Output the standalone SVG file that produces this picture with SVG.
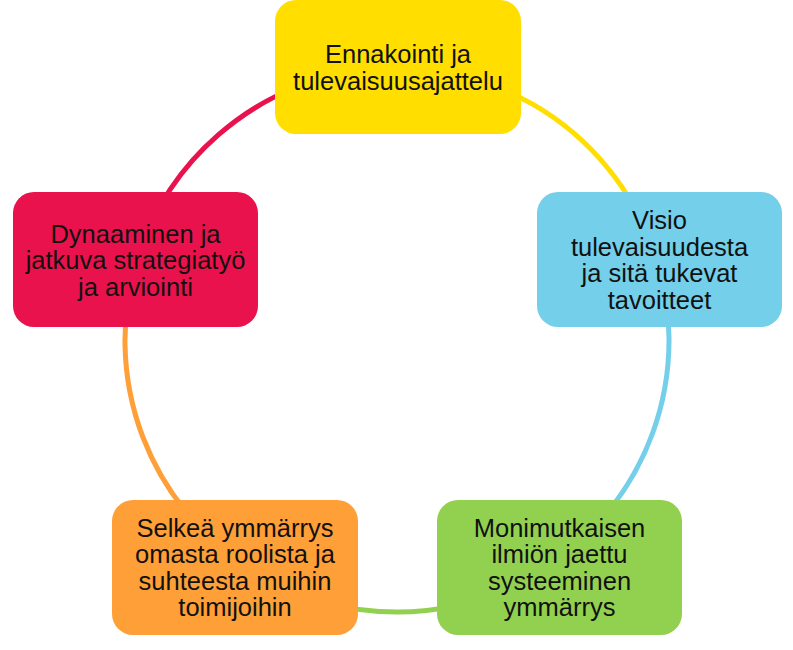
<svg xmlns="http://www.w3.org/2000/svg" width="793" height="650" viewBox="0 0 793 650">
  <style>
    .arc { fill: none; stroke-width: 5; }
    .box { stroke: none; }
    .lbl { font-family: "Liberation Sans", Arial, sans-serif; font-size: 25.5px; fill: #111111; text-anchor: middle; }
  </style>
  <rect x="0" y="0" width="793" height="650" fill="#ffffff"/>
  <g id="connectors">
    <path class="arc" stroke="#FFDE00" d="M349.8,72.1 A272,272 0 0 1 652.6,247.0"/>
    <path class="arc" stroke="#73CFEA" d="M652.6,247.0 A272,272 0 0 1 533,575.6"/>
    <path class="arc" stroke="#92D14F" d="M533,575.6 A272,272 0 0 1 261,575.6"/>
    <path class="arc" stroke="#FF9F37" d="M261,575.6 A272,272 0 0 1 138.3,255.9"/>
    <path class="arc" stroke="#E9124C" d="M138.3,255.9 A272,272 0 0 1 349.8,72.1"/>
  </g>
  <g id="node-ennakointi">
    <rect class="box" x="275" y="0" width="246" height="134" rx="21" fill="#FFDE00"/>
    <text class="lbl"><tspan x="398" y="63">Ennakointi ja</tspan><tspan x="398" y="89.5">tulevaisuusajattelu</tspan></text>
  </g>
  <g id="node-visio">
    <rect class="box" x="537" y="192" width="245" height="135" rx="21" fill="#73CFEA"/>
    <text class="lbl"><tspan x="659.5" y="229">Visio</tspan><tspan x="659.5" y="255.5">tulevaisuudesta</tspan><tspan x="659.5" y="282">ja sitä tukevat</tspan><tspan x="659.5" y="308.5">tavoitteet</tspan></text>
  </g>
  <g id="node-monimutkaisen">
    <rect class="box" x="437" y="500" width="245" height="135" rx="21" fill="#92D14F"/>
    <text class="lbl"><tspan x="559.5" y="536.5">Monimutkaisen</tspan><tspan x="559.5" y="563">ilmiön jaettu</tspan><tspan x="559.5" y="589.5">systeeminen</tspan><tspan x="559.5" y="616">ymmärrys</tspan></text>
  </g>
  <g id="node-selkea">
    <rect class="box" x="112" y="500" width="246" height="135" rx="21" fill="#FF9F37"/>
    <text class="lbl"><tspan x="235" y="536.5">Selkeä ymmärrys</tspan><tspan x="235" y="563">omasta roolista ja</tspan><tspan x="235" y="589.5">suhteesta muihin</tspan><tspan x="235" y="616">toimijoihin</tspan></text>
  </g>
  <g id="node-dynaaminen">
    <rect class="box" x="13" y="192" width="245" height="135" rx="21" fill="#E9124C"/>
    <text class="lbl"><tspan x="135.5" y="242.5">Dynaaminen ja</tspan><tspan x="135.5" y="269">jatkuva strategiatyö</tspan><tspan x="135.5" y="295.5">ja arviointi</tspan></text>
  </g>
</svg>
